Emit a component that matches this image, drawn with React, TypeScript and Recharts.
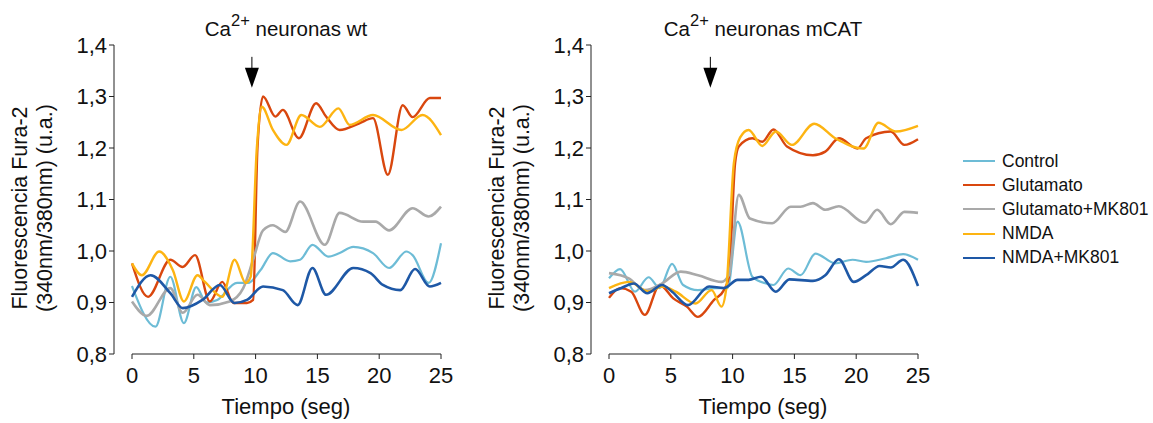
import { LineChart, Line, XAxis, YAxis, ReferenceLine } from "recharts";

// --- wt neurons ---
const wtControlT = [0, 1.9, 3.1, 4.2, 5.2, 6.0, 6.9, 8.5, 9.4, 10.4, 11.4, 12.8, 13.6, 14.6, 15.9, 16.8, 17.9, 19.5, 20.8, 22.2, 22.7, 24.0, 25];
const wtControlV = [0.932, 0.853, 0.95, 0.86, 0.93, 0.9, 0.905, 0.938, 0.938, 0.963, 0.996, 0.98, 0.983, 1.012, 0.989, 0.996, 1.008, 0.996, 0.967, 0.999, 0.992, 0.938, 1.015];

const wtGlutT = [0, 1.3, 3.1, 4.1, 5.1, 6.3, 7.3, 8.2, 9.3, 9.8, 10.15, 10.6, 11.6, 12.2, 13.5, 14.9, 15.7, 16.8, 18.4, 19.5, 20.7, 21.9, 22.7, 24.1, 25];
const wtGlutV = [0.976, 0.911, 0.983, 0.969, 0.992, 0.902, 0.94, 0.899, 0.899, 0.905, 1.2, 1.3, 1.261, 1.274, 1.219, 1.287, 1.261, 1.235, 1.248, 1.258, 1.148, 1.283, 1.26, 1.297, 1.297];

const wtGlutMkT = [0, 1.2, 3.1, 4.1, 5.3, 6.3, 7.9, 9.0, 9.8, 10.6, 11.4, 12.4, 13.6, 15.6, 16.8, 18.7, 19.7, 20.8, 22.7, 24.0, 25];
const wtGlutMkV = [0.902, 0.874, 0.928, 0.88, 0.915, 0.895, 0.902, 0.928, 0.983, 1.04, 1.05, 1.037, 1.096, 1.012, 1.074, 1.057, 1.057, 1.04, 1.083, 1.067, 1.086];

const wtNmdaT = [0, 0.8, 2.2, 3.3, 4.2, 5.3, 5.9, 7.3, 8.3, 9.2, 9.6, 10.1, 10.5, 11.4, 12.5, 13.7, 15.2, 16.7, 17.6, 19.5, 21.8, 23.5, 25];
const wtNmdaV = [0.976, 0.953, 0.999, 0.963, 0.902, 0.953, 0.94, 0.911, 0.983, 0.938, 0.95, 1.2, 1.28, 1.235, 1.206, 1.264, 1.241, 1.277, 1.245, 1.264, 1.235, 1.264, 1.225];

const wtNmdaMkT = [0, 1.5, 3.1, 4.1, 5.7, 7.1, 8.3, 9.3, 10.6, 12.2, 13.4, 14.6, 15.7, 17.9, 19.3, 20.3, 21.7, 22.9, 24.1, 25];
const wtNmdaMkV = [0.911, 0.953, 0.918, 0.889, 0.905, 0.934, 0.899, 0.905, 0.931, 0.924, 0.895, 0.967, 0.915, 0.967, 0.957, 0.934, 0.924, 0.965, 0.931, 0.938];

// --- mCAT neurons ---
const mcControlT = [0, 0.9, 2.1, 3.2, 4.1, 5.1, 6.0, 7.2, 8.6, 9.6, 10.4, 11.6, 12.7, 13.3, 14.5, 15.5, 16.7, 18.3, 19.7, 20.8, 22.4, 23.8, 25];
const mcControlV = [0.947, 0.965, 0.921, 0.949, 0.928, 0.975, 0.934, 0.924, 0.928, 0.928, 1.057, 0.95, 0.937, 0.934, 0.966, 0.953, 0.995, 0.976, 0.983, 0.979, 0.986, 0.994, 0.983];

const mcGlutT = [0, 0.9, 1.8, 2.9, 4.1, 5.2, 6.3, 7.2, 8.5, 9.3, 9.7, 10.2, 10.5, 11.6, 12.4, 13.3, 14.4, 16.5, 17.5, 18.6, 20.1, 20.8, 22.8, 23.9, 25];
const mcGlutV = [0.909, 0.928, 0.921, 0.876, 0.934, 0.908, 0.892, 0.872, 0.905, 0.924, 0.95, 1.17, 1.203, 1.219, 1.212, 1.236, 1.203, 1.186, 1.193, 1.219, 1.199, 1.219, 1.232, 1.206, 1.217];

const mcGlutMkT = [0, 1.6, 2.9, 4.3, 5.8, 7.2, 9.1, 9.7, 10.5, 11.4, 13.2, 14.7, 15.5, 16.5, 17.5, 18.6, 20.7, 21.7, 22.8, 23.9, 25];
const mcGlutMkV = [0.957, 0.947, 0.924, 0.937, 0.96, 0.953, 0.94, 0.953, 1.109, 1.063, 1.054, 1.086, 1.086, 1.093, 1.08, 1.087, 1.055, 1.08, 1.052, 1.076, 1.074];

const mcNmdaT = [0, 1.6, 3.2, 4.3, 5.4, 7.0, 8.3, 9.1, 9.5, 10.1, 10.6, 11.3, 12.4, 13.5, 14.8, 16.6, 18.3, 20.6, 21.8, 23.2, 25];
const mcNmdaV = [0.928, 0.94, 0.921, 0.931, 0.921, 0.898, 0.924, 0.892, 0.93, 1.17, 1.22, 1.235, 1.204, 1.232, 1.206, 1.247, 1.219, 1.199, 1.249, 1.232, 1.243];

const mcNmdaMkT = [0, 1.0, 2.0, 3.1, 4.3, 5.1, 6.4, 8.1, 9.3, 10.4, 11.3, 12.3, 13.5, 14.6, 16.5, 17.5, 18.6, 19.8, 20.8, 21.9, 22.8, 23.8, 25];
const mcNmdaMkV = [0.918, 0.928, 0.937, 0.918, 0.934, 0.921, 0.895, 0.931, 0.928, 0.944, 0.944, 0.95, 0.921, 0.945, 0.942, 0.953, 0.984, 0.94, 0.953, 0.971, 0.968, 0.983, 0.932];

const seriesNames = ["Control", "Glutamato", "Glutamato+MK801", "NMDA", "NMDA+MK801"];
const xTicks = [0, 5, 10, 15, 20, 25];
const yTicks = [0.8, 0.9, 1.0, 1.1, 1.2, 1.3, 1.4];
const wtArrowAt = 9.7;
const mcArrowAt = 8.2;

const COLORS = ["#6dbcd6", "#d9470e", "#a9a9a9", "#fdb412", "#1e58a6"];
const WIDTHS = [2.2, 2.4, 2.6, 2.4, 2.6];
const FONT = "'Liberation Sans', Arial, Helvetica, sans-serif";
const AXIS = "#222";

type Pt = { t: number; v: number };
const toPoints = (t: number[], v: number[]): Pt[] => t.map((x, i) => ({ t: x, v: v[i] }));

const wtSeries = [
  toPoints(wtControlT, wtControlV),
  toPoints(wtGlutT, wtGlutV),
  toPoints(wtGlutMkT, wtGlutMkV),
  toPoints(wtNmdaT, wtNmdaV),
  toPoints(wtNmdaMkT, wtNmdaMkV),
];
const mcSeries = [
  toPoints(mcControlT, mcControlV),
  toPoints(mcGlutT, mcGlutV),
  toPoints(mcGlutMkT, mcGlutMkV),
  toPoints(mcNmdaT, mcNmdaV),
  toPoints(mcNmdaMkT, mcNmdaMkV),
];

const fmtY = (v: number) => v.toFixed(1).replace(".", ",");

function ArrowShape(props: any) {
  const { x1, y1, x2, y2 } = props;
  return (
    <g>
      <line x1={x1} y1={y1} x2={x2} y2={y2 - 16} stroke="#000" strokeWidth={1} />
      <polygon points={`${x2 - 7},${y2 - 20} ${x2 + 7},${y2 - 20} ${x2},${y2}`} fill="#000" />
    </g>
  );
}

function Panel({ left, title, series, arrowAt }: { left: number; title: string; series: Pt[][]; arrowAt: number }) {
  return (
    <div style={{ position: "absolute", left, top: 0, width: 460, height: 423 }}>
      <LineChart width={460} height={423} margin={{ top: 45, right: 19, bottom: 0, left: 0 }}>
        <XAxis
          dataKey="t"
          type="number"
          domain={[0, 25]}
          ticks={xTicks}
          allowDuplicatedCategory={false}
          padding={{ left: 18, right: 0 }}
          axisLine={false}
          tickLine={{ stroke: AXIS }}
          tickSize={5}
          tickMargin={8}
          height={69}
          tick={{ fill: "#111", fontSize: 22, fontFamily: FONT }}
        />
        <YAxis
          type="number"
          domain={[0.8, 1.4]}
          ticks={yTicks}
          tickFormatter={fmtY}
          width={114}
          axisLine={{ stroke: AXIS }}
          tickLine={{ stroke: AXIS }}
          tickSize={5}
          tickMargin={2}
          tick={{ fill: "#111", fontSize: 22, fontFamily: FONT }}
        />
        <ReferenceLine segment={[{ x: 0, y: 0.8 }, { x: 25, y: 0.8 }]} stroke={AXIS} strokeWidth={1} />
        <ReferenceLine
          segment={[{ x: arrowAt, y: 1.377 }, { x: arrowAt, y: 1.317 }]}
          shape={ArrowShape}
        />
        {series.map((pts, i) => (
          <Line
            key={seriesNames[i]}
            data={pts}
            dataKey="v"
            name={seriesNames[i]}
            type="monotone"
            stroke={COLORS[i]}
            strokeWidth={WIDTHS[i]}
            dot={false}
            isAnimationActive={false}
          />
        ))}
      </LineChart>
      <div
        style={{
          position: "absolute",
          left: 136,
          top: 19,
          width: 300,
          textAlign: "center",
          fontFamily: FONT,
          fontSize: 20.5,
          lineHeight: "20px",
          color: "#111",
          whiteSpace: "nowrap",
        }}
      >
        Ca<span style={{ position: "relative", top: -10, fontSize: 16.5 }}>2+</span> {title}
      </div>
      <div
        style={{
          position: "absolute",
          left: 136,
          top: 396,
          width: 300,
          textAlign: "center",
          fontFamily: FONT,
          fontSize: 22,
          lineHeight: "22px",
          color: "#111",
        }}
      >
        Tiempo (seg)
      </div>
      <div
        style={{
          position: "absolute",
          left: 34 - 140,
          top: 208 - 26,
          width: 280,
          height: 52,
          transform: "rotate(-90deg)",
          transformOrigin: "center",
          textAlign: "center",
          fontFamily: FONT,
          fontSize: 21.5,
          lineHeight: "25px",
          color: "#111",
          whiteSpace: "nowrap",
        }}
      >
        <div>Fluorescencia Fura-2</div>
        <div>(340nm/380nm) (u.a.)</div>
      </div>
    </div>
  );
}

function LegendBox() {
  return (
    <div style={{ position: "absolute", left: 963, top: 149, fontFamily: FONT, fontSize: 17.5, color: "#111" }}>
      {seriesNames.map((n, i) => (
        <div key={n} style={{ display: "flex", alignItems: "center", height: 24.2 }}>
          <div style={{ width: 32, height: 2, background: COLORS[i], marginRight: 7 }} />
          <span>{n}</span>
        </div>
      ))}
    </div>
  );
}

export default function App() {
  return (
    <div style={{ position: "absolute", left: 0, top: 0, width: 1153, height: 423, background: "#fff" }}>
      <Panel left={0} title="neuronas wt" series={wtSeries} arrowAt={wtArrowAt} />
      <Panel left={477} title="neuronas mCAT" series={mcSeries} arrowAt={mcArrowAt} />
      <LegendBox />
    </div>
  );
}
